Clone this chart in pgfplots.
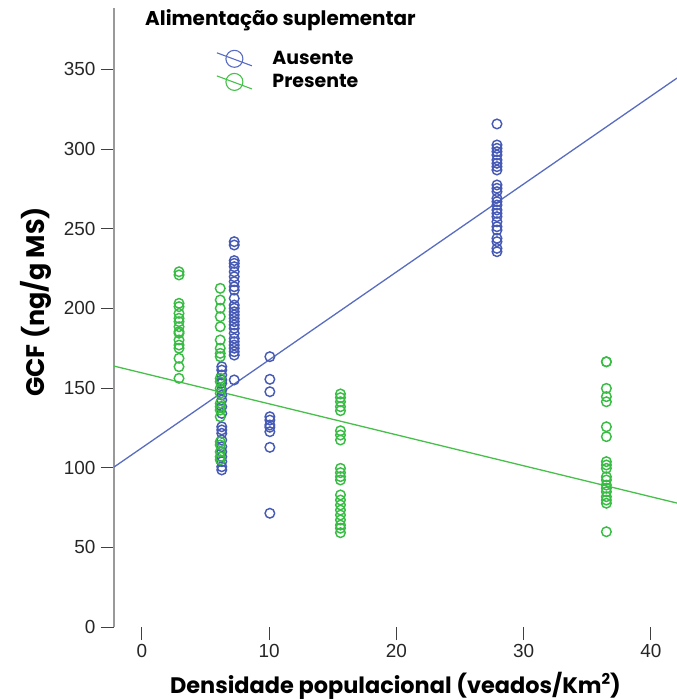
\documentclass[border=0pt]{standalone}
\usepackage{fontspec}
\setmainfont{Liberation Sans}
\newfontfamily\poppins{Poppins}
\usepackage{pgfplots}
\pgfplotsset{compat=1.18}
\definecolor{cblue}{RGB}{70,90,182}
\definecolor{cgreen}{RGB}{56,188,68}
\definecolor{lblue}{RGB}{88,108,194}
\definecolor{lgreen}{RGB}{70,192,74}
\begin{document}
\begin{tikzpicture}
\begin{axis}[
  at={(0,0)}, anchor=south west,
  scale only axis, width=563bp, height=619bp,
  xmin=-2.2, xmax=42.05, ymin=0, ymax=388.6,
  axis lines*=left,
  x axis line style={draw=none},
  y axis line style={draw=gray!80, line width=1.2bp},
  xtick={0,10,20,30,40}, ytick={0,50,100,150,200,250,300,350},
  tick align=outside, major tick length=13bp,
  tick style={draw=black!75, line width=1bp},
  /pgf/number format/assume math mode=true,
  ticklabel style={font=\fontsize{19}{22}\selectfont, text=black!85},
  xticklabel style={yshift=-1bp},
  yticklabel style={xshift=-2bp},
  clip=true,
  legend style={draw=none, fill=none, at={(axis cs:5.83,362.5)}, anchor=north west,
    font=\poppins\bfseries\fontsize{19}{21}\selectfont, row sep=5bp, column sep=20bp,
    inner sep=0pt, nodes={inner sep=0pt}},
  legend cell align=left,
]
\addlegendimage{legend image code/.code={
  \draw[lblue, line width=1.1bp] (-1bp,6bp) -- (34bp,-7bp);
  \draw[lblue, line width=1.1bp] (16.5bp,0bp) circle (8.5bp);}}
\addlegendentry{Ausente}
\addlegendimage{legend image code/.code={
  \draw[lgreen, line width=1.1bp] (-1bp,6bp) -- (34bp,-7bp);
  \draw[lgreen, line width=1.1bp] (16.5bp,0bp) circle (8.5bp);}}
\addlegendentry{Presente}
\addplot[forget plot, only marks, mark=o, mark size=4.8bp, mark options={draw=cblue, line width=1.45bp}] coordinates {
(6.27,163.4)(6.27,161.3)(6.27,158.2)(6.27,155.1)(6.27,153.0)(6.27,148.8)(6.27,145.6)(6.27,142.5)(6.27,138.3)(6.27,134.1)
(6.27,125.7)(6.27,123.7)(6.27,121.6)(6.27,117.4)(6.27,113.2)(6.27,110.0)(6.27,106.9)(6.27,103.8)(6.27,100.6)(6.27,98.6)
(7.25,241.9)(7.25,239.8)(7.25,230.0)(7.25,228.3)(7.25,226.2)(7.25,223.0)(7.25,219.9)(7.25,216.8)(7.25,213.6)(7.25,211.5)
(7.25,206.3)(7.25,202.1)(7.25,200.1)(7.25,197.9)(7.25,195.9)(7.25,193.8)(7.25,191.7)(7.25,189.6)(7.25,187.5)(7.25,184.4)
(7.25,181.2)(7.25,179.1)(7.25,177.0)(7.25,175.0)(7.25,172.8)(7.25,170.7)(7.25,155.1)
(10.05,169.7)(10.05,155.5)(10.05,147.7)(10.05,132.0)(10.05,129.9)(10.05,126.8)(10.05,125.4)(10.05,122.6)(10.05,112.8)(10.05,71.4)
(27.9,315.8)(27.9,302.6)(27.9,300.5)(27.9,298.4)(27.9,296.3)(27.9,293.2)(27.9,291.1)(27.9,289.0)(27.9,286.9)(27.9,277.5)
(27.9,275.4)(27.9,273.3)(27.9,269.1)(27.9,267.0)(27.9,264.9)(27.9,261.8)(27.9,259.7)(27.9,257.6)(27.9,254.4)(27.9,251.3)
(27.9,249.2)(27.9,244.0)(27.9,241.9)(27.9,237.7)(27.9,235.6)
};
\addplot[forget plot, only marks, mark=o, mark size=4.8bp, mark options={draw=cgreen, line width=1.45bp}] coordinates {
(2.91,223.0)(2.91,221.0)(2.91,203.2)(2.91,201.1)(2.91,196.9)(2.91,193.8)(2.91,191.7)(2.91,188.5)(2.91,185.4)(2.91,184.4)
(2.91,180.2)(2.91,177.0)(2.91,175.0)(2.91,168.7)(2.91,163.4)(2.91,156.1)
(6.15,212.6)(6.15,205.3)(6.15,200.1)(6.15,194.8)(6.15,188.5)(6.15,180.2)(6.15,175.0)(6.15,171.8)(6.15,169.7)(6.15,156.1)
(6.15,154.0)(6.15,149.8)(6.15,146.7)(6.15,140.4)(6.15,138.3)(6.15,136.2)(6.15,132.0)(6.15,116.3)(6.15,114.3)(6.15,110.0)
(6.15,106.9)(6.15,105.0)
(15.6,146.3)(15.6,144.0)(15.6,141.4)(15.6,138.3)(15.6,135.8)(15.6,123.2)(15.6,120.5)(15.6,117.4)(15.6,99.6)(15.6,96.9)
(15.6,94.4)(15.6,92.3)(15.6,82.9)(15.6,79.7)(15.6,76.6)(15.6,73.4)(15.6,70.3)(15.6,67.2)(15.6,64.0)(15.6,62.0)(15.6,59.2)
(36.5,166.5)(36.5,166.5)(36.5,149.8)(36.5,144.6)(36.5,141.4)(36.5,125.7)(36.5,119.5)(36.5,103.8)(36.5,101.7)(36.5,99.6)
(36.5,94.3)(36.5,92.3)(36.5,89.1)(36.5,87.1)(36.5,84.9)(36.5,81.8)(36.5,79.7)(36.5,77.7)(36.5,59.8)
};
\addplot[forget plot, lblue, line width=1.3bp, no marks] coordinates {(-2.2,100.4)(42.05,344.6)};
\addplot[forget plot, lgreen, line width=1.3bp, no marks] coordinates {(-2.2,163.8)(42.05,77.8)};
\end{axis}
\node[anchor=west, font=\poppins\bfseries\fontsize{20}{23}\selectfont, inner sep=0] at (31bp,607bp) {Alimentação suplementar};
\node[font=\poppins\bfseries\fontsize{22.5}{26}\selectfont, inner sep=0] at (281.5bp,-59bp) {Densidade populacional (veados/Km\raisebox{0.7ex}{\fontsize{15}{15}\selectfont 2})};
\node[rotate=90, font=\poppins\bfseries\fontsize{25.5}{28}\selectfont, inner sep=0] at (-78bp,325bp) {GCF (ng/g MS)};
\pgfresetboundingbox
\path[use as bounding box] (-114bp,-73bp) rectangle (563bp,627bp);
\end{tikzpicture}
\end{document}
